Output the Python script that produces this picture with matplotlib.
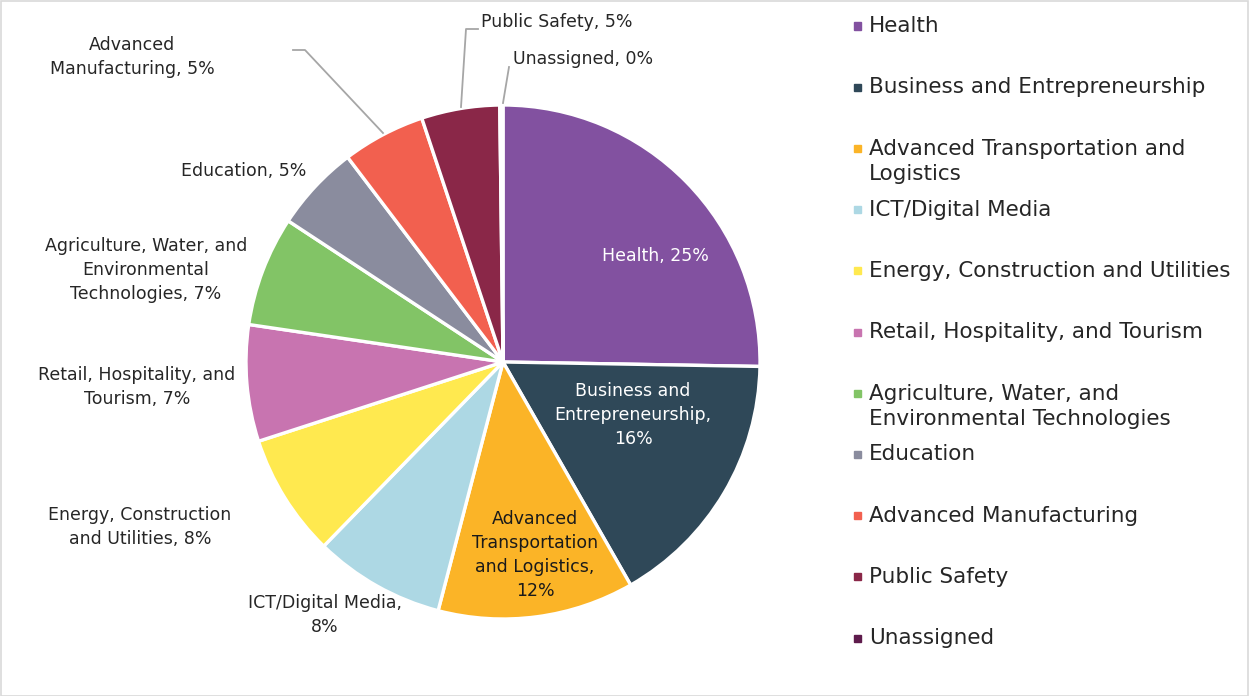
import matplotlib.pyplot as plt
from matplotlib.patches import Rectangle

# sector share of the total, in percent
sectors = ["Health", "Business and Entrepreneurship",
           "Advanced Transportation and Logistics", "ICT/Digital Media",
           "Energy, Construction and Utilities", "Retail, Hospitality, and Tourism",
           "Agriculture, Water, and Environmental Technologies", "Education",
           "Advanced Manufacturing", "Public Safety", "Unassigned"]
shares = [25.2, 16.4, 12.3, 8.2, 7.7, 7.3, 6.9, 5.4, 5.2, 4.9, 0.2]
colors = ["#8251A0", "#2F4858", "#FBB427", "#ADD8E4", "#FFE94F", "#C874B0",
          "#82C466", "#8A8C9E", "#F2604F", "#8A2748", "#5E1B4C"]

# wrapped text for the slice labels and the legend
slice_text = ["Health,", "Business and\nEntrepreneurship,\n", "Advanced\nTransportation\nand Logistics,\n",
              "ICT/Digital Media,\n", "Energy, Construction\nand Utilities,",
              "Retail, Hospitality, and\nTourism,", "Agriculture, Water, and\nEnvironmental\nTechnologies,",
              "Education,", "Advanced\nManufacturing,", "Public Safety,", "Unassigned,"]
legend_text = ["Health", "Business and Entrepreneurship", "Advanced Transportation and\nLogistics",
               "ICT/Digital Media", "Energy, Construction and Utilities",
               "Retail, Hospitality, and Tourism", "Agriculture, Water, and\nEnvironmental Technologies",
               "Education", "Advanced Manufacturing", "Public Safety", "Unassigned"]

W, H = 1249, 696
fig = plt.figure(figsize=(W / 100, H / 100), dpi=100)
fig.patches.append(Rectangle((0.5 / W, 0.5 / H), 1 - 1.5 / W, 1 - 1.5 / H,
                             transform=fig.transFigure, fill=False,
                             edgecolor="#d9d9d9", lw=1.2))

cx, cy, R = 503, 362, 257
ax = fig.add_axes([(cx - R) / W, (H - cy - R) / H, 2 * R / W, 2 * R / H])
ax.pie(shares, colors=colors, startangle=90, counterclock=False,
       wedgeprops=dict(edgecolor="white", linewidth=2.4))
ax.set_xlim(-1, 1)
ax.set_ylim(-1, 1)
ax.axis("off")

def px(x, y):
    return (x - cx) / R, (cy - y) / R

font = "DejaVu Sans"
fs = 12.5
dark = "#262626"
# label centres (pixel coords) and text colour; None = placed with a leader line
spots = [(655, 256, "white"), (633, 415, "white"), (535, 555, "#1a1a1a"),
         (325, 615, dark), (140, 527, dark), (137, 387, dark),
         (146, 270, dark), (244, 171, dark), (132, 57, dark),
         None, None]
for t, v, spot in zip(slice_text, shares, spots):
    if spot is None:
        continue
    x, y, c = spot
    sep = "" if t.endswith("\n") else " "
    ax.text(*px(x, y), "{}{}{:.0f}%".format(t, sep, v), ha="center", va="center",
            color=c, fontsize=fs, family=font, linespacing=1.42)

# small slices at the top carry leader lines
for i, (x, y) in zip((9, 10), ((481, 22), (513, 59))):
    ax.text(*px(x, y), "{} {:.0f}%".format(slice_text[i], shares[i]), ha="left",
            va="center", color=dark, fontsize=fs, family=font)
lc = "#a6a6a6"
for pts in ([(293, 50), (305, 50), (383, 133)],
            [(478, 29), (466, 29), (461, 107)],
            [(509, 67), (503, 103)]):
    xs, ys = zip(*[px(a, b) for a, b in pts])
    ax.plot(xs, ys, color=lc, lw=1.3, clip_on=False)

# legend on the right
lfs = 15.5
for i, (name, c) in enumerate(zip(legend_text, colors)):
    y = 26 + i * 61.2
    fig.patches.append(Rectangle(((857 - 3.5) / W, (H - y - 3.5) / H), 7 / W, 7 / H,
                                 transform=fig.transFigure, color=c))
    nl = name.count("\n")
    fig.text(869 / W, (H - y - 13 * nl) / H, name, ha="left", va="center",
             fontsize=lfs, family=font, color=dark, linespacing=1.3)

fig.savefig("out.png", dpi=100)
